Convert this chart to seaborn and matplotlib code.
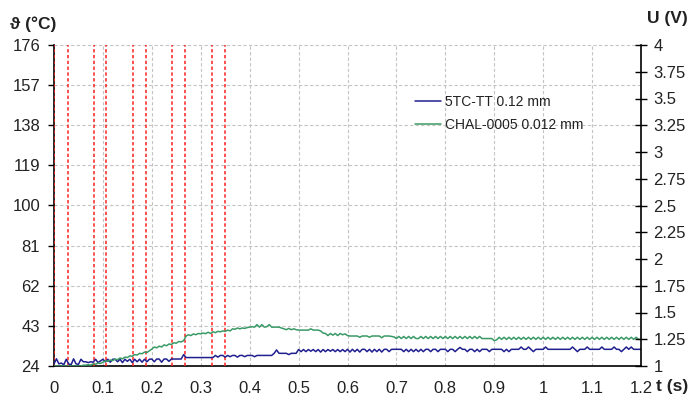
import numpy as np
import pandas as pd
import matplotlib
matplotlib.use("Agg")
import matplotlib.pyplot as plt
import seaborn as sns

# ---------------- data ----------------
t_step = 0.005
n_samples = 241  # 0.000 .. 1.200 s

green_temp = [
    24, 24, 24, 24, 24, 24, 24, 24, 24, 24, 24, 24, 24.4, 24.4, 24.6, 24.4, 25.0, 24.8, 25.4, 25.2,
    25.8, 26.4, 26.2, 26.8, 26.6, 27.2, 27.0, 27.8, 27.4, 28.2, 28.0, 28.8, 28.6, 29.4, 29.2, 30.0, 29.8, 30.6, 30.4, 31.2,
    32.0, 33.0, 32.6, 33.4, 33.0, 34.0, 33.6, 34.4, 34.2, 35.0, 34.8, 35.6, 35.4, 36.0, 38.2, 38.8, 38.4, 39.2, 38.8, 39.4,
    39.2, 39.6, 39.3, 40.0, 39.4, 40.2, 39.8, 40.4, 40.2, 40.6, 40.4, 41.0, 40.6, 41.6, 41.4, 42.0, 41.6, 42.0, 41.8, 42.2,
    42.4, 42.6, 42.4, 43.6, 42.4, 43.6, 42.4, 42.6, 43.6, 42.4, 42.4, 42.4, 42.4, 42.0, 41.6, 41.2, 41.8, 41.2, 41.6, 41.2,
    41.0, 41.0, 41.0, 41.0, 41.0, 41.6, 41.0, 41.0, 41.0, 40.6, 39.6, 39.4, 38.4, 39.4, 38.6, 39.4, 38.4, 39.4, 38.8, 39.2,
    38.4, 38.2, 38.2, 38.2, 38.2, 37.6, 38.2, 38.2, 38.2, 37.6, 38.2, 38.2, 38.2, 38.2, 37.4, 38.2, 38.2, 38.2, 38.0, 37.8,
    37.0, 38.0, 37.0, 38.0, 37.0, 38.0, 37.0, 38.0, 37.0, 37.0, 38.0, 37.0, 38.0, 37.0, 38.0, 37.0, 38.0, 37.0, 38.0, 37.0,
    38.0, 37.0, 38.0, 37.0, 38.0, 37.0, 38.0, 37.0, 38.0, 37.0, 38.0, 37.0, 38.0, 37.0, 38.0, 37.0, 37.0, 37.0, 37.0, 37.0,
    36.0, 36.4, 37.6, 36.6, 37.6, 36.6, 37.6, 36.6, 37.6, 36.6, 37.6, 36.6, 37.6, 36.6, 37.6, 36.6, 37.6, 36.6, 37.6, 36.6,
    37.6, 36.6, 37.6, 36.6, 37.6, 36.6, 37.6, 36.6, 37.6, 36.6, 37.6, 36.6, 37.6, 36.6, 37.6, 36.6, 37.6, 36.6, 37.6, 36.6,
    37.6, 36.6, 37.6, 36.6, 37.6, 36.6, 37.6, 36.6, 37.6, 36.6, 37.6, 36.6, 37.6, 36.6, 37.6, 36.6, 37.6, 36.6, 37.6, 36.6,
    36.6,
]

blue_temp = [
    25.0, 27.4, 25.0, 25.4, 24.6, 27.2, 25.0, 24.6, 27.4, 25.0, 24.8, 27.2, 26.0, 26.0, 25.6, 26.0, 25.8, 27.2, 25.6, 26.4,
    27.2, 26.0, 27.2, 25.8, 27.2, 27.2, 26.0, 27.2, 25.6, 27.2, 26.2, 27.2, 25.6, 27.2, 26.0, 27.2, 25.8, 27.2, 26.0, 27.2,
    27.3, 26.0, 27.3, 27.3, 25.8, 27.3, 27.3, 26.2, 27.3, 27.3, 27.3, 27.3, 27.3, 29.4, 28.0, 28.0, 28.0, 28.0, 28.0, 28.0,
    28.0, 28.0, 28.0, 28.0, 28.0, 28.0, 29.0, 28.2, 29.0, 29.0, 28.2, 29.0, 28.4, 29.0, 29.0, 28.2, 29.0, 29.0, 28.4, 29.0,
    29.0, 29.0, 28.4, 29.0, 29.0, 29.0, 29.0, 29.0, 29.0, 29.0, 30.0, 31.6, 30.0, 30.0, 30.0, 30.0, 29.4, 30.0, 30.0, 30.0,
    31.8, 30.8, 31.8, 30.8, 31.8, 31.0, 31.8, 30.8, 31.8, 30.6, 31.8, 30.8, 31.8, 31.0, 31.8, 30.8, 31.8, 30.8, 31.8, 30.8,
    31.9, 30.6, 31.9, 30.8, 31.9, 30.6, 31.9, 31.9, 30.8, 31.9, 30.6, 31.9, 30.8, 31.9, 30.6, 31.9, 31.9, 30.8, 31.9, 31.9,
    31.9, 31.9, 31.9, 30.8, 31.9, 30.8, 31.9, 30.8, 31.9, 30.8, 31.9, 30.8, 31.9, 31.9, 30.8, 31.9, 31.9, 30.8, 31.9, 31.9,
    31.9, 30.8, 31.9, 31.9, 30.8, 31.9, 32.8, 31.9, 31.9, 30.8, 31.9, 31.9, 30.8, 31.9, 30.8, 31.9, 31.9, 31.9, 30.8, 31.9,
    31.9, 31.9, 31.9, 31.9, 30.8, 31.9, 30.8, 31.9, 31.9, 31.9, 31.9, 33.0, 31.9, 31.9, 33.0, 31.9, 30.8, 31.9, 31.9, 31.9,
    31.9, 33.0, 31.9, 31.9, 31.9, 31.9, 31.9, 31.9, 31.9, 31.9, 31.9, 31.9, 33.0, 31.9, 30.8, 31.9, 31.9, 31.9, 33.0, 31.9,
    31.9, 31.9, 31.9, 31.9, 33.0, 31.9, 31.9, 31.9, 31.9, 33.0, 31.9, 31.9, 30.8, 31.9, 33.0, 31.9, 33.0, 31.9, 31.9, 31.9,
    31.9,
]

red_marks_t = [0.001, 0.029, 0.082, 0.107, 0.162, 0.188, 0.242, 0.268, 0.322, 0.350]

series_names = ["5TC-TT 0.12 mm", "CHAL-0005 0.012 mm"]
series_colors = ["#1f1f8f", "#3a9a66"]

x_ticks = [0, 0.1, 0.2, 0.3, 0.4, 0.5, 0.6, 0.7, 0.8, 0.9, 1.0, 1.1, 1.2]
x_tick_labels = ["0", "0.1", "0.2", "0.3", "0.4", "0.5", "0.6", "0.7", "0.8", "0.9", "1", "1.1", "1.2"]
left_ticks = [24, 43, 62, 81, 100, 119, 138, 157, 176]
right_ticks = [1, 1.25, 1.5, 1.75, 2, 2.25, 2.5, 2.75, 3, 3.25, 3.5, 3.75, 4]
right_tick_labels = ["1", "1.25", "1.5", "1.75", "2", "2.25", "2.5", "2.75", "3", "3.25", "3.5", "3.75", "4"]

t = np.round(np.arange(n_samples) * t_step, 3)
df = pd.concat([
    pd.DataFrame({"t": t, "val": blue_temp, "series": series_names[0]}),
    pd.DataFrame({"t": t, "val": green_temp, "series": series_names[1]}),
])

# ---------------- style ----------------
sns.set_style("white")
plt.rcParams["font.family"] = ["Liberation Sans", "DejaVu Sans"]

W, H = 689, 397
fig = plt.figure(figsize=(W / 100, H / 100), dpi=100)
L, R, T, B = 54, 641, 45, 366
ax = fig.add_axes([L / W, 1 - B / H, (R - L) / W, (B - T) / H])

grid_kw = dict(color="#c4c4c4", linestyle=(0, (3, 2)), linewidth=0.8)
for xv in x_ticks[1:-1]:
    ax.axvline(xv, zorder=0, **grid_kw)
for yv in left_ticks[1:]:
    ax.axhline(yv, zorder=0, clip_on=False, **grid_kw)

for xv in red_marks_t:
    ax.axvline(xv, color="#ff2020", linestyle=(0, (2.2, 1.6)), linewidth=1.1, zorder=3)

sns.lineplot(data=df, x="t", y="val", hue="series", palette=series_colors,
             hue_order=series_names, estimator=None, sort=False,
             linewidth=1.1, ax=ax, zorder=4)

ax.set_xlim(0, 1.2)
ax.set_ylim(24, 176)
ax.set_xticks(x_ticks)
ax.set_xticklabels(x_tick_labels)
ax.set_yticks(left_ticks)
ax.set_yticklabels([str(v) for v in left_ticks])
ax.set_xlabel("")
ax.set_ylabel("")
ax.tick_params(axis="both", labelsize=12, labelcolor="#222222", color="black",
               direction="out", length=4, width=1, pad=6)
ax.tick_params(axis="x", pad=7)
for s in ["left", "bottom"]:
    ax.spines[s].set_color("black")
    ax.spines[s].set_linewidth(1.2)
ax.spines["top"].set_visible(False)
ax.spines["right"].set_visible(False)

ax2 = ax.twinx()
ax2.set_ylim(1, 4)
ax2.set_yticks(right_ticks)
ax2.set_yticklabels(right_tick_labels)
ax2.tick_params(axis="y", labelsize=12, labelcolor="#222222", color="black",
                direction="inout", length=8, width=1, pad=5)
for s in ["left", "top", "bottom"]:
    ax2.spines[s].set_visible(False)
ax2.spines["right"].set_color("black")
ax2.spines["right"].set_linewidth(1.2)

leg = ax.legend(loc="center left", bbox_to_anchor=(415 / W, 1 - 113.4 / H),
                bbox_transform=fig.transFigure, frameon=False, fontsize=10,
                handlelength=1.9, handletextpad=0.25, labelspacing=0.6,
                borderpad=0, borderaxespad=0)
for txt in leg.get_texts():
    txt.set_color("#222222")

fig.text(10 / W, 1 - 24 / H, "\u03d1 (°C)", fontsize=12.5, fontweight="bold",
         ha="left", va="center", color="#222222")
fig.text(688 / W, 1 - 19 / H, "U (V)", fontsize=12.5, fontweight="bold",
         ha="right", va="center", color="#222222")
fig.text(656 / W, 1 - 387 / H, "t (s)", fontsize=12.5, fontweight="bold",
         ha="left", va="center", color="#222222")

fig.savefig("out.png", dpi=100)
